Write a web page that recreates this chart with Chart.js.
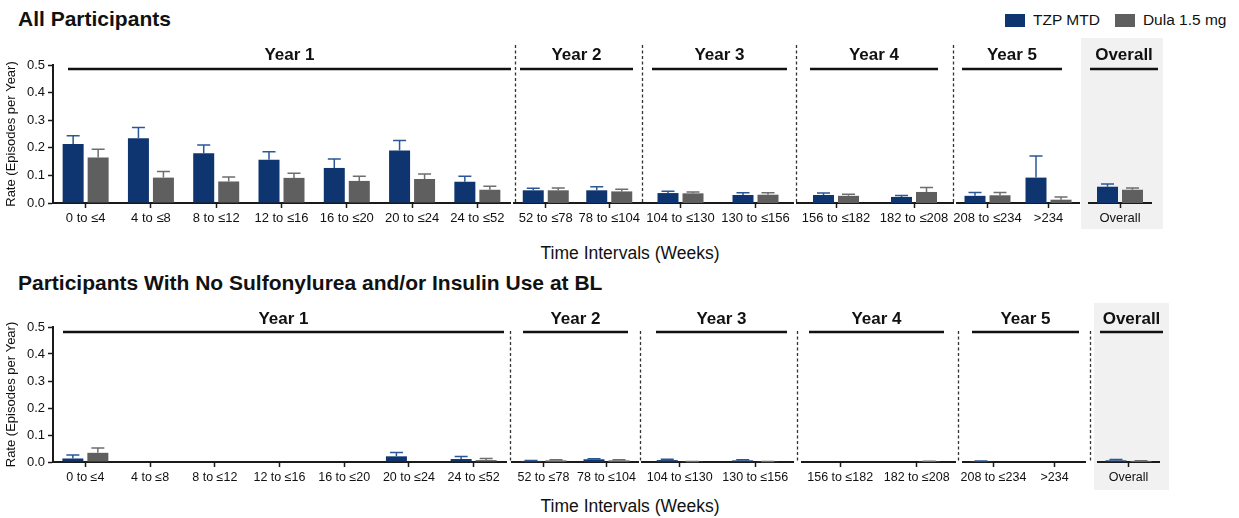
<!DOCTYPE html>
<html>
<head>
<meta charset="utf-8">
<script src="https://cdn.jsdelivr.net/npm/chart.js@4.4.1/dist/chart.umd.min.js"></script>
<style>
  html, body { margin: 0; padding: 0; background: #fff; }
  #page { position: relative; width: 1239px; height: 518px; overflow: hidden;
          font-family: 'Liberation Sans', Arial, sans-serif; color: #111; }
  #page canvas { position: absolute; }
  .panel-title { position: absolute; left: 18px; font-weight: bold; font-size: 21px;
                 line-height: 24px; white-space: nowrap; }
  .x-title { position: absolute; left: 0; width: 1260px; text-align: center;
             font-size: 17.5px; line-height: 20px; white-space: nowrap; }
  .legend { position: absolute; top: 10px; left: 1005px; height: 20px; display: flex;
            align-items: center; font-size: 15.5px; white-space: nowrap; }
  .legend .swatch { display: inline-block; width: 20px; height: 13px; margin-right: 8px; }
  .legend .item { display: flex; align-items: center; margin-right: 15px; }
</style>
</head>
<body>
<div id="page">
  <div class="panel-title" style="top:7px">All Participants</div>
  <div class="legend" id="legend"></div>
  <div class="x-title" style="top:243px">Time Intervals (Weeks)</div>
  <div class="panel-title" style="top:271px">Participants With No Sulfonylurea and/or Insulin Use at BL</div>
  <div class="x-title" style="top:496px">Time Intervals (Weeks)</div>
</div>
<script>
// ---- Data -------------------------------------------------------------
const intervals = [
  '0 to ≤4', '4 to ≤8', '8 to ≤12', '12 to ≤16', '16 to ≤20', '20 to ≤24', '24 to ≤52',
  '52 to ≤78', '78 to ≤104',
  '104 to ≤130', '130 to ≤156',
  '156 to ≤182', '182 to ≤208',
  '208 to ≤234', '>234',
  'Overall'
];
const yearGroups = ['Year 1', 'Year 2', 'Year 3', 'Year 4', 'Year 5', 'Overall'];
const intervalsPerGroup = [7, 2, 2, 2, 2, 1];
const seriesNames = ['TZP MTD', 'Dula 1.5 mg'];
const yTicks = [0, 0.1, 0.2, 0.3, 0.4, 0.5];

// All participants: event rate and upper error limit
const allTzp      = [0.214, 0.235, 0.180, 0.157, 0.127, 0.190, 0.077, 0.046, 0.046, 0.036, 0.029, 0.029, 0.022, 0.026, 0.092, 0.059];
const allTzpUpper = [0.244, 0.274, 0.210, 0.186, 0.159, 0.226, 0.097, 0.053, 0.059, 0.043, 0.037, 0.036, 0.027, 0.038, 0.170, 0.069];
const allDula      = [0.165, 0.092, 0.078, 0.091, 0.080, 0.087, 0.048, 0.046, 0.042, 0.035, 0.030, 0.026, 0.040, 0.028, 0.012, 0.048];
const allDulaUpper = [0.195, 0.114, 0.094, 0.108, 0.097, 0.105, 0.061, 0.054, 0.050, 0.040, 0.037, 0.032, 0.056, 0.038, 0.022, 0.054];

// Participants with no sulfonylurea and/or insulin use at baseline
const noSuTzp      = [0.013, 0, 0, 0, 0, 0.021, 0.011, 0.004, 0.010, 0.007, 0.006, 0, 0,     0.003, 0, 0.006];
const noSuTzpUpper = [0.026, 0, 0, 0, 0, 0.035, 0.020, 0.006, 0.012, 0.010, 0.008, 0, 0,     0.004, 0, 0.009];
const noSuDula      = [0.034, 0, 0, 0, 0, 0,     0.007, 0.006, 0.006, 0.001, 0.001, 0, 0.002, 0,     0, 0.004];
const noSuDulaUpper = [0.052, 0, 0, 0, 0, 0,     0.013, 0.008, 0.008, 0.002, 0.002, 0, 0.003, 0,     0, 0.005];

// ---- Styling ------------------------------------------------------------
const FONT = "'Liberation Sans', Arial, sans-serif";
const INK = '#111';
const AXIS = '#1a1a1a';
const seriesColors = ['#0f3570', '#5f5f5f'];
const errorColors = ['#2b5797', '#6e6e6e'];
const PAD_X = 30, PAD_TOP = 30, X_AXIS_H = 30, Y_AXIS_W = 53;
const PAIR_W = 50, BAR_PCT = 0.84;

Chart.defaults.font.family = FONT;
Chart.defaults.color = INK;

const panels = [
  {
    tzp: allTzp, tzpUpper: allTzpUpper, dula: allDula, dulaUpper: allDulaUpper,
    plotTop: 65, plotBottom: 203, tickFont: 13,
    segments: [[53, 510], [514, 641], [643, 793], [797, 953], [957, 1079], [1089, 1151]],
    brackets: [[68, 511], [520, 633], [652, 787], [810, 938], [962, 1062], [1090, 1158]],
    labelY: 55, bracketY: 69, dashTop: 45,
    dividers: [515.5, 642.5, 796.5, 953.5, null],
    shade: [1081, 38, 1163, 229]
  },
  {
    tzp: noSuTzp, tzpUpper: noSuTzpUpper, dula: noSuDula, dulaUpper: noSuDulaUpper,
    plotTop: 327, plotBottom: 462, tickFont: 12.5,
    segments: [[53, 506], [512, 638], [642, 793], [802, 955], [963, 1085], [1098, 1159]],
    brackets: [[63, 504], [523, 628], [656, 787], [809, 944], [972, 1079], [1100, 1163]],
    labelY: 319, bracketY: 332, dashTop: 331,
    dividers: [510.5, 640.5, 797.5, 958.5, 1090.5],
    shade: [1094, 303, 1169, 490]
  }
];

// Legend built from the series definitions
const legend = document.getElementById('legend');
seriesNames.forEach((name, i) => {
  const item = document.createElement('span');
  item.className = 'item';
  const sw = document.createElement('span');
  sw.className = 'swatch';
  sw.style.background = seriesColors[i];
  item.appendChild(sw);
  item.appendChild(document.createTextNode(name));
  legend.appendChild(item);
});

// Upper error bars (whisker + cap) on each bar
const errorBars = {
  id: 'errorBars',
  afterDatasetsDraw(chart) {
    const ctx = chart.ctx, y = chart.scales.y;
    chart.data.datasets.forEach((ds, di) => {
      chart.getDatasetMeta(di).data.forEach((bar, i) => {
        const hi = ds.upper[i];
        if (!(hi > ds.data[i])) return;
        const yTop = y.getPixelForValue(hi);
        ctx.save();
        ctx.strokeStyle = ds.errorColor;
        ctx.lineWidth = 1.5;
        ctx.beginPath();
        ctx.moveTo(bar.x, bar.y);
        ctx.lineTo(bar.x, yTop);
        ctx.moveTo(bar.x - 6.5, yTop);
        ctx.lineTo(bar.x + 6.5, yTop);
        ctx.stroke();
        ctx.restore();
      });
    });
  }
};

function makeSegment(panel, gi) {
  const [x0, x1] = panel.segments[gi];
  const first = gi === 0;
  const canvasLeft = first ? 0 : x0 - PAD_X;
  const canvasTop = panel.plotTop - PAD_TOP;
  const width = first ? x1 + PAD_X : (x1 - x0) + 2 * PAD_X;
  const height = (panel.plotBottom - panel.plotTop) + PAD_TOP + X_AXIS_H;

  const start = intervalsPerGroup.slice(0, gi).reduce((a, b) => a + b, 0);
  const end = start + intervalsPerGroup[gi];
  const catWidth = (x1 - x0) / intervalsPerGroup[gi];

  const canvas = document.createElement('canvas');
  canvas.width = width;
  canvas.height = height;
  canvas.style.left = canvasLeft + 'px';
  canvas.style.top = canvasTop + 'px';
  canvas.style.width = width + 'px';
  canvas.style.height = height + 'px';
  document.getElementById('page').appendChild(canvas);

  // Group label, bracket, dashed divider and shaded "Overall" band
  const decor = {
    id: 'decor',
    beforeDraw(chart) {
      const ctx = chart.ctx;
      const divider = gi > 0 ? panel.dividers[gi - 1] : null;
      if (divider != null) {
        ctx.save();
        ctx.strokeStyle = '#333';
        ctx.lineWidth = 1.3;
        ctx.setLineDash([3, 2.5]);
        ctx.beginPath();
        ctx.moveTo(divider - canvasLeft, panel.dashTop - canvasTop);
        ctx.lineTo(divider - canvasLeft, panel.plotBottom - canvasTop);
        ctx.stroke();
        ctx.restore();
      }
      if (gi === yearGroups.length - 1) {
        const [sx0, sy0, sx1, sy1] = panel.shade;
        ctx.save();
        ctx.fillStyle = '#f1f1f1';
        ctx.fillRect(sx0 - canvasLeft, sy0 - canvasTop, sx1 - sx0, sy1 - sy0);
        ctx.restore();
      }
    },
    afterDraw(chart) {
      const ctx = chart.ctx;
      const [b0, b1] = panel.brackets[gi];
      ctx.save();
      ctx.strokeStyle = INK;
      ctx.lineWidth = 2.5;
      ctx.beginPath();
      ctx.moveTo(b0 - canvasLeft, panel.bracketY - canvasTop);
      ctx.lineTo(b1 - canvasLeft, panel.bracketY - canvasTop);
      ctx.stroke();
      ctx.fillStyle = INK;
      ctx.font = 'bold 17px ' + FONT;
      ctx.textAlign = 'center';
      ctx.textBaseline = 'middle';
      ctx.fillText(yearGroups[gi], (b0 + b1) / 2 - canvasLeft, panel.labelY - canvasTop);
      ctx.restore();
    }
  };

  const datasets = [
    { label: seriesNames[0], data: panel.tzp.slice(start, end), upper: panel.tzpUpper.slice(start, end),
      backgroundColor: seriesColors[0], errorColor: errorColors[0] },
    { label: seriesNames[1], data: panel.dula.slice(start, end), upper: panel.dulaUpper.slice(start, end),
      backgroundColor: seriesColors[1], errorColor: errorColors[1] }
  ];

  const yScale = {
    display: first,
    min: 0, max: 0.5,
    afterBuildTicks(s) { s.ticks = yTicks.map(v => ({ value: v })); },
    grid: { drawOnChartArea: false, drawTicks: true, tickLength: 5,
            tickColor: AXIS, tickWidth: 1.5, color: AXIS },
    border: { display: true, color: AXIS, width: 2 },
    ticks: { color: INK, font: { size: 13 }, padding: 3, callback: v => Number(v).toFixed(1) },
    title: { display: true, text: 'Rate (Episodes per Year)', color: INK,
             font: { size: 13 }, padding: { top: 4, bottom: 4 } }
  };
  if (first) yScale.afterFit = s => { s.width = Y_AXIS_W; };

  new Chart(canvas, {
    type: 'bar',
    data: { labels: intervals.slice(start, end), datasets },
    options: {
      responsive: false,
      maintainAspectRatio: false,
      animation: false,
      devicePixelRatio: 1,
      layout: { padding: { left: first ? 0 : PAD_X, right: PAD_X, top: PAD_TOP, bottom: 0 } },
      datasets: { bar: { categoryPercentage: PAIR_W / catWidth, barPercentage: BAR_PCT, borderWidth: 0 } },
      plugins: { legend: { display: false }, tooltip: { enabled: false }, title: { display: false } },
      scales: {
        x: {
          offset: true,
          grid: { offset: false, drawOnChartArea: false, drawTicks: true, tickLength: 5,
                  tickColor: AXIS, tickWidth: 1.5, color: AXIS },
          border: { display: true, color: AXIS, width: 2 },
          ticks: { color: INK, font: { size: panel.tickFont }, maxRotation: 0, minRotation: 0,
                   autoSkip: false, padding: 3 },
          afterFit(s) { s.height = X_AXIS_H; }
        },
        y: yScale
      }
    },
    plugins: [errorBars, decor]
  });
}

panels.forEach(panel => {
  yearGroups.forEach((_, gi) => makeSegment(panel, gi));
});
</script>
</body>
</html>
